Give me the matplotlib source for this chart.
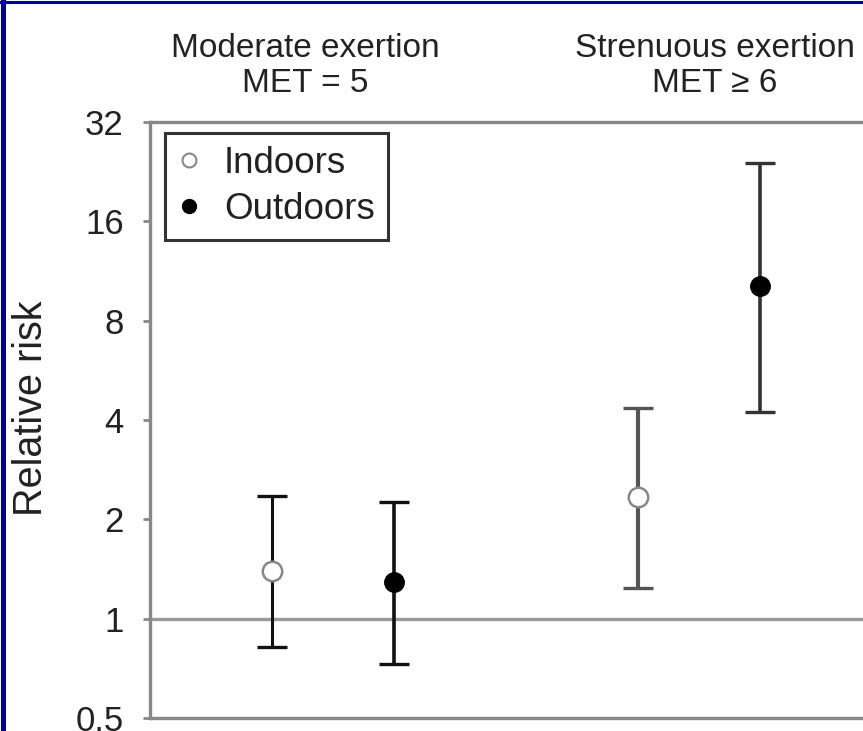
import matplotlib
matplotlib.use("Agg")
import matplotlib.pyplot as plt
from matplotlib.lines import Line2D
import numpy as np

plt.rcParams['font.family'] = ['Liberation Sans', 'DejaVu Sans']

# relative risk with 95% confidence limits
groups = ["Moderate exertion\nMET = 5", "Strenuous exertion\nMET \u2265 6"]
settings = ["Indoors", "Outdoors", "Indoors", "Outdoors"]
rr = [1.39, 1.29, 2.33, 10.2]
ci_low = [0.82, 0.73, 1.24, 4.24]
ci_high = [2.36, 2.26, 4.36, 24.1]
yticks = [0.5, 1, 2, 4, 8, 16, 32]
ytick_labels = ["0.5", "1", "2", "4", "8", "16", "32"]

xpos = [1, 2, 4, 5]
title_x = [1.27, 4.63]
bar_colors = ["#111111", "#111111", "#555555", "#333333"]
bar_widths = [2.2, 2.6, 3.0, 2.6]

fig = plt.figure(figsize=(8.63, 7.31), dpi=100)
ax = fig.add_axes([150 / 863, 13 / 731, 732 / 863, 596 / 731])

ax.set_yscale('log', base=2)
ax.set_ylim(0.5, 32)
ax.set_xlim(0, 6)

# reference line at RR = 1
ax.axhline(1, color="#999999", lw=2.4, zorder=1)

for i in range(len(rr)):
    lo = rr[i] - ci_low[i]
    hi = ci_high[i] - rr[i]
    ax.errorbar(xpos[i], rr[i], yerr=[[lo], [hi]], fmt='none',
                ecolor=bar_colors[i], elinewidth=bar_widths[i],
                capsize=10.5, capthick=2.4, zorder=2)
    if settings[i] == "Indoors":
        ax.plot(xpos[i], rr[i], 'o', ms=14, mfc='white', mec='#888888',
                mew=1.8, zorder=3)
    else:
        ax.plot(xpos[i], rr[i], 'o', ms=14, mfc='black', mec='black',
                zorder=3)

ax.set_yticks(yticks)
ax.set_yticklabels(ytick_labels)
ax.yaxis.set_minor_locator(matplotlib.ticker.NullLocator())
ax.set_xticks([])
ax.tick_params(axis='y', direction='out', length=5, width=2,
               color='#888888', labelsize=25, pad=14, labelcolor='#222222')

for side in ['left', 'top', 'bottom']:
    ax.spines[side].set_color('#888888')
    ax.spines[side].set_linewidth(2.4)
ax.spines['right'].set_visible(False)

ax.set_ylabel("Relative risk", fontsize=28.5, color='#222222')
ax.yaxis.set_label_coords(-0.137, 0.52)

# group headings above the plot
for gx, g in zip(title_x, groups):
    ax.annotate(g, xy=(gx, 1.0), xycoords=('data', 'axes fraction'),
                xytext=(0, 16.5), textcoords='offset points',
                ha='center', va='bottom', fontsize=24, color='#222222',
                linespacing=1.18, annotation_clip=False)

handles = [
    Line2D([], [], ls='none', marker='o', ms=10, mfc='white',
           mec='#888888', mew=1.5, label='Indoors'),
    Line2D([], [], ls='none', marker='o', ms=10, mfc='black',
           mec='black', label='Outdoors'),
]
leg = ax.legend(handles=handles, loc='upper left',
                bbox_to_anchor=(15 / 732, 1 - 11 / 596), borderaxespad=0,
                fontsize=26.5, frameon=True, fancybox=False,
                handlelength=0.6, handletextpad=0.65, borderpad=0.35,
                labelspacing=0.3)
leg.get_frame().set_edgecolor('black')
leg.get_frame().set_linewidth(2.2)
for t in leg.get_texts():
    t.set_color('#222222')

# dark blue frame along the top and left edges
fig.add_artist(Line2D([0, 1], [1 - 1.5 / 731, 1 - 1.5 / 731],
                      transform=fig.transFigure, color='#0000a0', lw=2.2))
fig.add_artist(Line2D([2.5 / 863, 2.5 / 863], [0, 1],
                      transform=fig.transFigure, color='#0000a0', lw=3.6))

fig.savefig("out.png", dpi=100)
